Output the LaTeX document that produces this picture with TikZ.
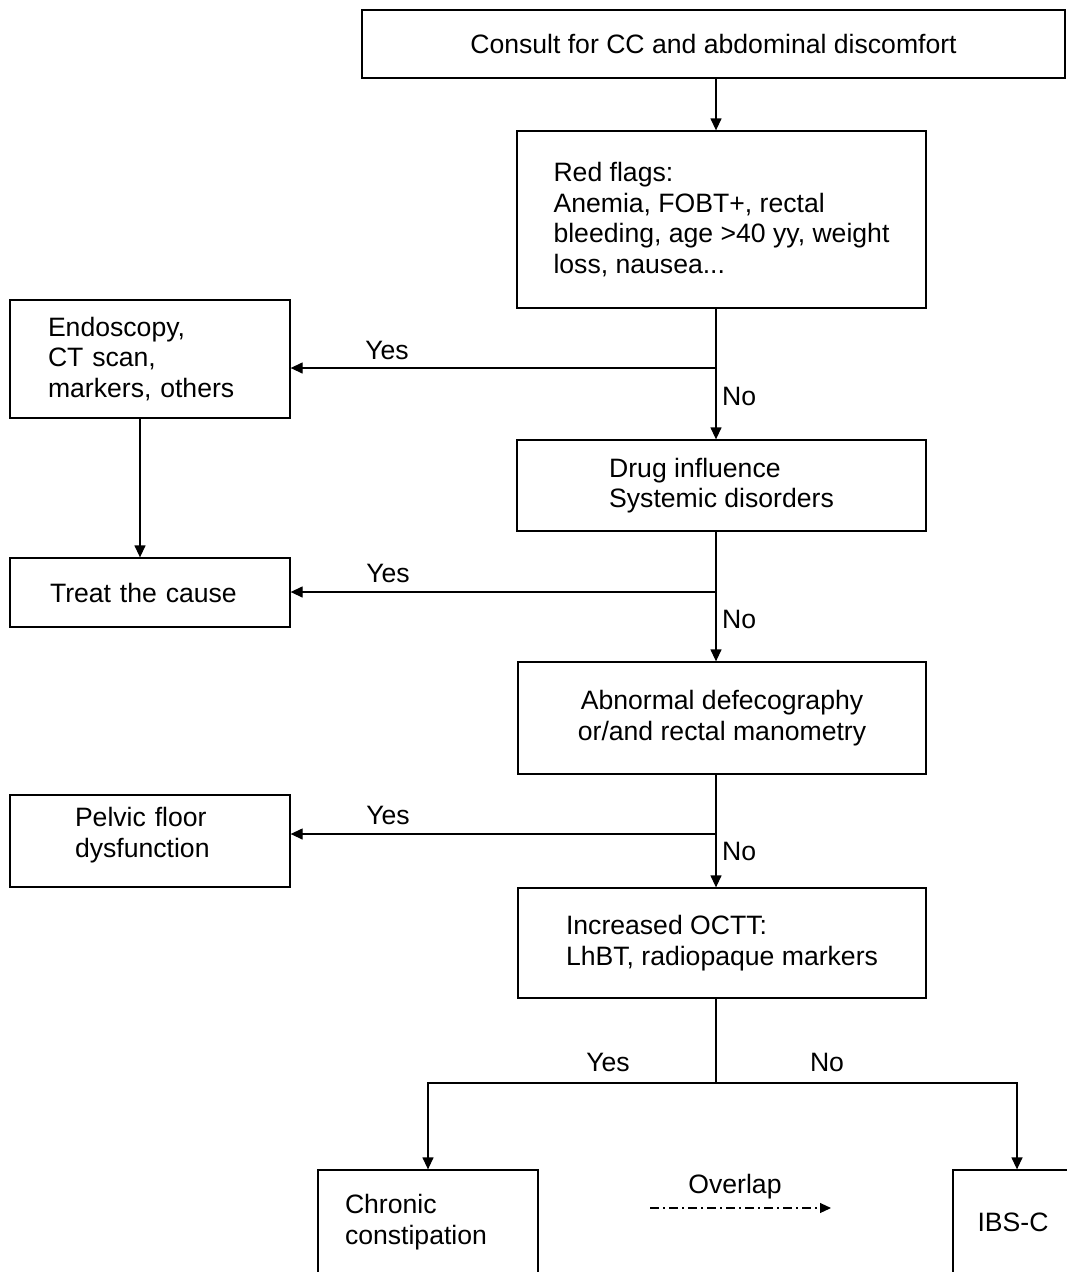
\documentclass[tikz,border=0pt]{standalone}
\usepackage{fontspec}
\setmainfont{Liberation Sans}
\usetikzlibrary{arrows.meta}
\begin{document}
\begin{tikzpicture}[x=1pt,y=-1pt,
  every node/.style={font=\fontsize{26.6}{30.7}\selectfont, inner sep=0pt},
  box/.style 2 args={draw, line width=1.3pt, minimum width=#1, minimum height=#2},
  lbox/.style={align=left},
  cbox/.style={align=center},
  conn/.style={line width=1.3pt},
  arr/.style={conn, -{Triangle[length=12pt,width=11pt]}},
  overlap/.style={line width=1.1pt, dash pattern=on 9pt off 4pt on 2pt off 4pt, -{Triangle[length=11pt,width=10pt]}}
]
\useasboundingbox (0,0) rectangle (1067,1272);
\fill[white] (0,0) rectangle (1067,1272);
\clip (0,0) rectangle (1067,1272);

% boxes
\node[box={703pt}{68pt}, cbox] (top) at (713.5,44) {Consult for CC and abdominal discomfort};
\node[box={409pt}{177pt}, lbox] (rf) at (721.5,219.5) {Red flags:\\Anemia, FOBT+, rectal\\bleeding, age >40 yy, weight\\loss, nausea...};
\node[box={280pt}{118pt}, lbox, text width=204pt] (endo) at (150,359) {Endoscopy,\\CT scan,\\markers, others};
\node[box={409pt}{91pt}, lbox] (drug) at (721.5,485.5) {Drug influence\\Systemic disorders};
\node[box={280pt}{69pt}, lbox, text width=200pt] (treat) at (150,592.5) {Treat the cause};
\node[box={408pt}{112pt}, cbox] (abn) at (722,718) {Abnormal defecography\\or/and rectal manometry};
\node[box={280pt}{92pt}, lbox, text width=150pt, text depth=48pt] (pelvic) at (150,841) {Pelvic floor\\dysfunction};
\node[box={408pt}{110pt}, lbox] (octt) at (722,943) {Increased OCTT:\\LhBT, radiopaque markers};
\node[box={220pt}{104pt}, lbox, text width=166pt] (chron) at (428,1222) {Chronic\\constipation};
\node[box={120pt}{104pt}, cbox] (ibs) at (1013,1222) {IBS-C};

% helper coordinates
\coordinate (mx) at (716,0);
\coordinate (lx) at (140,0);
\coordinate (b1) at (716,368);
\coordinate (b2) at (716,592);
\coordinate (b3) at (716,834);
\coordinate (b4) at (716,1083);
\coordinate (cl) at (428,1083);
\coordinate (cr) at (1017,1083);

% connectors
\draw[arr] (top.south -| mx) -- (rf.north -| mx);
\draw[arr] (rf.south -| mx) -- (drug.north -| mx);
\draw[arr] (b1) -- (b1 -| endo.east);
\draw[arr] (endo.south -| lx) -- (treat.north -| lx);
\draw[arr] (drug.south -| mx) -- (abn.north -| mx);
\draw[arr] (b2) -- (b2 -| treat.east);
\draw[arr] (abn.south -| mx) -- (octt.north -| mx);
\draw[arr] (b3) -- (b3 -| pelvic.east);
\draw[conn] (octt.south -| mx) -- (b4);
\draw[arr] (b4) -- (cl) -- (cl |- chron.north);
\draw[arr] (b4) -- (cr) -- (cr |- ibs.north);

% labels
\node (y1) at (387,350) {Yes};
\node[anchor=west] (n1) at (722,396) {No};
\node (y2) at (388,573) {Yes};
\node[anchor=west] (n2) at (722,619) {No};
\node (y3) at (388,815) {Yes};
\node[anchor=west] (n3) at (722,851) {No};
\node (y4) at (608,1062) {Yes};
\node (n4) at (827,1062) {No};

% overlap
\node (ovl) at (735,1187) {Overlap};
\coordinate (ovs) at (650,1208);
\coordinate (ove) at (831,1208);
\draw[overlap] (ovs) -- (ove);
\end{tikzpicture}
\end{document}
